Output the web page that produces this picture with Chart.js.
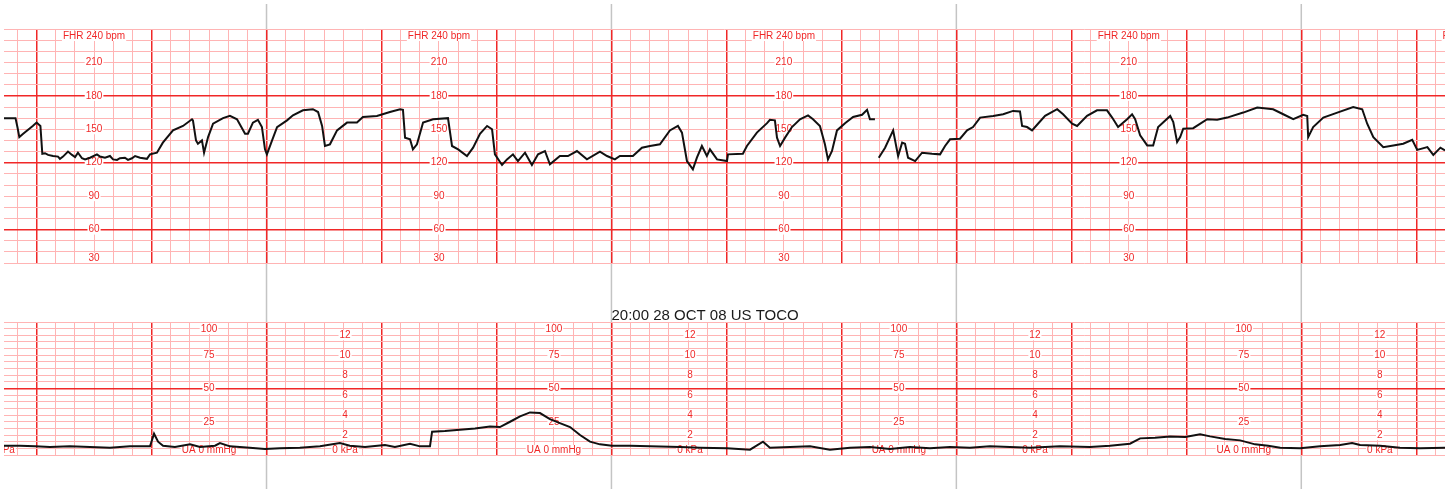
<!DOCTYPE html>
<html>
<head>
<meta charset="utf-8">
<script src="https://cdn.jsdelivr.net/npm/chart.js@4"></script>
<style>
  body { margin: 0; background: #fff; }
  #wrap { position: relative; width: 1450px; height: 489px; }
  canvas { position: absolute; left: 0; top: 0; }
</style>
</head>
<body>
<div id="wrap">
  <canvas id="fhr" width="1450" height="489"></canvas>
  <canvas id="toco" width="1450" height="489"></canvas>
</div>
<script>
// time in seconds, one big square = 60 s
const fhrTime = [-17, -11, -10, -9, -7, -2, 0, 2, 3, 4.4, 6, 8.6, 11.2, 12.2, 13.8, 16.4, 18.5, 20.1, 21.6, 23.7, 25.3, 27.9, 31.5, 33.1, 35.7, 38.3, 39.9, 42, 43.5, 46.1, 47.7, 49.8, 51.4, 54, 57.6, 59.2, 62.8, 65.9, 71.2, 76.4, 81.1, 81.6, 83.2, 84.2, 86.3, 87.4, 89.5, 92.1, 97.3, 100.9, 104.6, 108.8, 110.3, 112.9, 115.5, 117.6, 119.2, 120.2, 122.9, 125.5, 130.7, 133.8, 139, 144.2, 146.9, 149, 150.5, 153.1, 156.8, 162, 167.2, 170.3, 177.6, 184.4, 189.7, 191.2, 192.3, 194.9, 196.4, 198.5, 201.7, 206.9, 214.7, 216.8, 220, 224.6, 227.8, 231.4, 235.1, 237.7, 239.2, 242.9, 245.5, 248.6, 251.2, 254.9, 258.5, 261.7, 265.3, 267.9, 273.1, 277.3, 282, 287.2, 294, 297.7, 301.8, 304.4, 311.2, 315.9, 320.1, 325.3, 330.5, 334.7, 336.8, 339.4, 342.5, 344.6, 347.2, 349.8, 351.4, 355.1, 360.3, 360.8, 368.6, 370.7, 375.9, 381.2, 382.7, 385.3, 386.4, 388, 390.6, 394.2, 398.4, 402.6, 405.2, 408.8, 411.4, 413, 415.1, 417.7, 421.9, 426.1, 430.8, 433.4, 434.9, 437.5, 438.5, 439.5, 442.8, 447, 449.6, 451.7, 453.2, 454.8, 458.5, 462.1, 467.3, 471.5, 474.1, 476.7, 481.9, 485.6, 488.7, 492.4, 499.2, 504.4, 509.6, 513.2, 514.3, 516.9, 519.5, 522.6, 526.3, 532.6, 535.7, 540.4, 543, 548.2, 553.4, 558.6, 561.3, 564.4, 569.1, 571.7, 573.3, 575.9, 579.6, 582.7, 585.3, 591.6, 593.2, 595.2, 596.8, 598.4, 603.6, 610.9, 616.1, 621.3, 629.7, 637, 645.3, 650.6, 655.8, 661, 663.1, 663.6, 666.2, 671.5, 678.8, 687.1, 691.8, 694.4, 697.6, 702.8, 708, 713.2, 717.9, 720.5, 725.8, 728.9, 732.6, 735];
const fhrBpm = [160, 160, 152, 143, 146, 153, 156, 153, 128, 128.5, 127, 126, 125.5, 123.5, 125.5, 130, 127, 125, 129, 124, 123, 124.5, 127.5, 125.5, 124.5, 126, 123, 122.5, 124, 124.5, 122.5, 124, 126, 124.5, 123.5, 127.5, 129, 138, 149, 153, 159, 158, 140, 137, 140, 129, 143, 155, 160, 162, 159, 146, 146, 156, 158.5, 152, 132, 127.5, 140, 152, 158, 162.5, 167, 168, 165.5, 153, 135, 136.5, 149, 156, 156, 161, 162, 165.5, 168, 167.5, 142.5, 141, 132, 136.5, 156, 159, 160, 135, 132, 126, 133.5, 146, 153, 150, 127.5, 118, 123, 127.5, 121.5, 129, 118, 127.5, 130.5, 118.5, 126, 126, 130.5, 123, 130, 126, 123, 126, 126, 133.5, 135, 136.5, 149, 153, 147, 121.5, 114, 124.5, 135, 126, 132, 123, 121.5, 127.5, 128, 135, 147, 155.5, 158.5, 158, 142.5, 135, 142.5, 152, 159, 162.5, 159, 153, 136.5, 123, 130.5, 149, 155.5, 161, 163, 167.5, 159, 159, null, 124.5, 133.5, 149, 126, 138, 137, 124.5, 121.5, 129, 128, 127.5, 135, 141, 141.5, 149, 152, 160.5, 162, 163.5, 166.5, 166, 153, 152, 149, 155, 162, 168, 163.5, 155, 153, 162, 167, 167, 160.5, 152, 159, 163.5, 159, 144.5, 135.5, 135.5, 152, 162, 156.5, 138.5, 143, 150.5, 151, 159, 158.5, 160.5, 165, 169.5, 168, 163.5, 159, 163, 162, 143, 152, 160.5, 165, 170, 168, 155, 143, 134, 135.5, 137, 140.5, 131.5, 134, 127, 133.5, 131];

const uaTime = [-17, -8.7, -0.8, 7, 17.4, 27.9, 38.3, 48.7, 59.2, 61.3, 63.4, 66, 72.2, 80.1, 85.3, 93.1, 95.7, 100.9, 111.3, 119.2, 127, 137.4, 147.9, 158.3, 163.5, 171.4, 181.8, 187, 194.9, 200.1, 205.3, 206.4, 213.1, 220.9, 228.8, 236.6, 241.8, 247.1, 252.3, 257.5, 262.7, 267.9, 273.1, 278.4, 283.6, 288.8, 294, 300.3, 309.7, 320.1, 335.8, 346.2, 360.3, 372.3, 379.1, 382.7, 393.2, 403.6, 414, 424.5, 434.9, 445.3, 455.8, 466.2, 476.7, 487.1, 497.5, 508, 518.4, 534.1, 549.7, 560.2, 570.6, 575.9, 583.7, 591.5, 599.4, 607.2, 612.4, 620.3, 628.1, 635.9, 642.7, 649, 659.4, 669.8, 680.3, 686.5, 690.7, 701.1, 711.5, 722, 735];
const uaMmHg = [7, 7, 6.5, 6, 6.5, 6, 5.5, 6.5, 6.5, 16, 10, 7, 6, 8, 6, 7, 9, 6.5, 5.5, 4.5, 5, 5.5, 6.5, 9, 7, 6, 7.5, 6, 8.5, 6.5, 6.5, 17.5, 18, 19, 20, 21.5, 21, 25, 29, 32, 31.5, 27, 24, 21, 15, 10, 8, 7, 7, 6.5, 6, 5.5, 5, 4, 10, 5.5, 6, 6.5, 4, 5.5, 6, 4.5, 6, 5, 6, 5.5, 6.5, 6, 5.5, 6.5, 6, 7, 8.5, 12.5, 13, 14, 13.5, 15.5, 14, 12, 11, 8, 7, 5.5, 5, 6.5, 7.5, 9, 7.5, 7, 5.5, 5, 5.5];

const fhrTicks = [210, 180, 150, 120, 90, 60, 30];
const uaTicks = [100, 75, 50, 25];
const kpaTicks = [12, 10, 8, 6, 4, 2];
const fhrHeader = 'FHR 240 bpm';
const uaHeader = 'UA 0 mmHg';
const kpaHeader = '0 kPa';
const stripTitle = '20:00 28 OCT 08 US TOCO';

// where the printed scales repeat along the strip
const fhrLabelCols = [30, 210, 390, 570, 750];
const uaLabelCols = [90, 270, 450, 630];
const kpaLabelCols = [161, 341, 521, 701];
const kpaHeaderCols = [-18, 161, 341, 521, 701];
const pageMarks = [120, 300, 480, 660];

const RED = '#f02828';
const PINK = '#ffb4b4';
const FONT = '10px "Liberation Sans", Arial, sans-serif';

function stepTicks(from, to, step) {
  const out = [];
  for (let v = from; v <= to; v += step) out.push({ value: v });
  return out;
}

function xScale() {
  return {
    type: 'linear', min: -17, max: 735,
    afterBuildTicks: s => { s.ticks = stepTicks(-10, 730, 10); },
    afterFit: s => { s.height = 0; },
    ticks: { display: false },
    border: { display: false },
    grid: {
      drawTicks: false,
      color: c => c.tick.value % 60 === 0 ? RED : PINK,
      lineWidth: c => c.tick.value % 60 === 0 ? 1.5 : 1
    }
  };
}

function yScale(min, max, step, majors) {
  return {
    type: 'linear', min: min, max: max,
    afterBuildTicks: s => { s.ticks = stepTicks(min, max, step); },
    afterFit: s => { s.width = 0; },
    ticks: { display: false },
    border: { display: false },
    grid: {
      drawTicks: false,
      color: c => majors.includes(c.tick.value) ? RED : PINK,
      lineWidth: c => majors.includes(c.tick.value) ? 1.5 : 1
    }
  };
}

function tag(chart, text, t, v) {
  const ctx = chart.ctx;
  const a = chart.chartArea;
  const x = chart.scales.x.getPixelForValue(t);
  let y = chart.scales.y.getPixelForValue(v);
  y = Math.min(Math.max(y, a.top + 7), a.bottom - 5);
  const w = ctx.measureText(text).width;
  ctx.fillStyle = '#fff';
  ctx.fillRect(x - w / 2 - 1, y - 5, w + 2, 10);
  ctx.fillStyle = RED;
  ctx.fillText(text, x, y);
}

function withLabels(draw) {
  return {
    id: 'labels',
    beforeDatasetsDraw(chart) {
      const ctx = chart.ctx;
      const a = chart.chartArea;
      ctx.save();
      ctx.beginPath();
      ctx.rect(a.left, a.top, a.right - a.left, a.bottom - a.top);
      ctx.clip();
      ctx.font = FONT;
      ctx.textAlign = 'center';
      ctx.textBaseline = 'middle';
      draw(chart);
      ctx.restore();
    }
  };
}

const pageMarkPlugin = {
  id: 'pageMarks',
  beforeDraw(chart) {
    const ctx = chart.ctx;
    ctx.save();
    ctx.strokeStyle = '#c4c4c4';
    ctx.lineWidth = 1.5;
    pageMarks.forEach(t => {
      const x = chart.scales.x.getPixelForValue(t);
      ctx.beginPath();
      ctx.moveTo(x, 4);
      ctx.lineTo(x, chart.height);
      ctx.stroke();
    });
    ctx.restore();
  }
};

const titlePlugin = {
  id: 'stripTitle',
  afterDraw(chart) {
    const ctx = chart.ctx;
    ctx.save();
    ctx.font = '15px "Liberation Sans", Arial, sans-serif';
    ctx.fillStyle = '#1a1a1a';
    ctx.textAlign = 'left';
    ctx.textBaseline = 'middle';
    ctx.fillText(stripTitle, chart.scales.x.getPixelForValue(300), chart.chartArea.top - 6);
    ctx.restore();
  }
};

function trace(times, values) {
  return {
    data: times.map((t, i) => ({ x: t, y: values[i] })),
    borderColor: '#111',
    borderWidth: 2,
    pointRadius: 0,
    tension: 0,
    spanGaps: false
  };
}

const common = {
  responsive: false,
  animation: false,
  plugins: { legend: { display: false }, tooltip: { enabled: false } }
};

new Chart(document.getElementById('fhr'), {
  type: 'line',
  data: { datasets: [trace(fhrTime, fhrBpm)] },
  options: {
    ...common,
    layout: { padding: { left: 4, right: 5, top: 29, bottom: 226 } },
    scales: { x: xScale(), y: yScale(30, 240, 10, [60, 120, 180]) }
  },
  plugins: [pageMarkPlugin, withLabels(chart => {
    fhrLabelCols.forEach(t => {
      tag(chart, fhrHeader, t, 240);
      fhrTicks.forEach(v => tag(chart, String(v), t, v));
    });
  })]
});

new Chart(document.getElementById('toco'), {
  type: 'line',
  data: { datasets: [trace(uaTime, uaMmHg)] },
  options: {
    ...common,
    layout: { padding: { left: 4, right: 5, top: 322, bottom: 34 } },
    scales: { x: xScale(), y: yScale(0, 100, 5, [50]) }
  },
  plugins: [titlePlugin, withLabels(chart => {
    uaLabelCols.forEach(t => {
      uaTicks.forEach(v => tag(chart, String(v), t, v));
      tag(chart, uaHeader, t, 0);
    });
    kpaLabelCols.forEach(t => {
      kpaTicks.forEach(k => tag(chart, String(k), t, k * 7.5));
    });
    kpaHeaderCols.forEach(t => tag(chart, kpaHeader, t, 0));
  })]
});
</script>
</body>
</html>
